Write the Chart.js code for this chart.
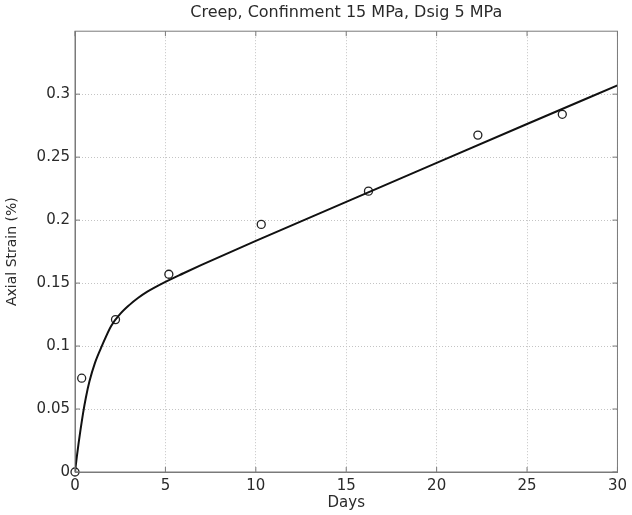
<html><head><title>Creep, Confinment 15 MPa, Dsig 5 MPa</title>
<script src="https://cdn.jsdelivr.net/npm/chart.js"></script>
<style>
    body {
        margin: 0;
        background: #fff;
    }
    #chart-container {
        width: 632px;
        height: 515px;
    }
</style>
</head>
<body>
    <div id="chart-container">
        <canvas id="creepChart" width="632" height="515"></canvas>
    </div>

    <script>
    // measured points (circles)
    const obsDays = [0, 0.37, 2.24, 5.19, 10.3, 16.23, 22.28, 26.95];
    const obsStrain = [0, 0.0745, 0.121, 0.157, 0.1966, 0.223, 0.2675, 0.284];

    // fitted curve
    const fitDays = [0, 0.1, 0.2, 0.3, 0.45, 0.6, 0.8, 1.1, 1.5, 2, 2.5, 3, 3.5, 4, 5, 6, 7, 8.5, 10, 15, 20, 25, 30];
    const fitStrain = [0, 0.012, 0.023, 0.033, 0.047, 0.059, 0.072, 0.0865, 0.1005, 0.116, 0.1255, 0.1325, 0.1383, 0.1432, 0.151, 0.1578, 0.1644, 0.174, 0.1835, 0.2145, 0.2455, 0.2763, 0.307];

    const xTicks = [0, 5, 10, 15, 20, 25, 30];
    const yTicks = [0, 0.05, 0.1, 0.15, 0.2, 0.25, 0.3];

    const textColor = '#2a2a2a';
    const frameColor = '#7a7a7a';

    // box around the axes plus small inward tick marks, like matlab
    const framePlugin = {
        id: 'frame',
        afterDraw(chart) {
            const { ctx, chartArea: a, scales } = chart;
            ctx.save();
            ctx.strokeStyle = frameColor;
            ctx.lineWidth = 1;
            ctx.strokeRect(a.left, a.top, a.right - a.left, a.bottom - a.top);
            ctx.beginPath();
            yTicks.forEach(v => {
                const y = scales.y.getPixelForValue(v);
                ctx.moveTo(a.left, y); ctx.lineTo(a.left + 5, y);
                ctx.moveTo(a.right, y); ctx.lineTo(a.right - 5, y);
            });
            xTicks.forEach(v => {
                const x = scales.x.getPixelForValue(v);
                ctx.moveTo(x, a.bottom); ctx.lineTo(x, a.bottom - 5);
                ctx.moveTo(x, a.top); ctx.lineTo(x, a.top + 5);
            });
            ctx.stroke();
            ctx.restore();
        }
    };

    const ctx = document.getElementById('creepChart').getContext('2d');
    const chart = new Chart(ctx, {
        type: 'scatter',
        data: {
            datasets: [{
                label: 'Fit',
                type: 'line',
                data: fitDays.map((d, i) => ({ x: d, y: fitStrain[i] })),
                borderColor: '#111',
                borderWidth: 2,
                pointRadius: 0,
                cubicInterpolationMode: 'monotone',
                fill: false
            }, {
                label: 'Measured',
                data: obsDays.map((d, i) => ({ x: d, y: obsStrain[i] })),
                pointStyle: 'circle',
                pointRadius: 4,
                borderColor: '#222',
                borderWidth: 1.3,
                backgroundColor: 'rgba(0,0,0,0)',
                clip: false
            }]
        },
        options: {
            responsive: false,
            animation: false,
            events: [],
            layout: {
                padding: { left: 0, right: 11.5, top: 0, bottom: 0 }
            },
            plugins: {
                legend: { display: false },
                tooltip: { enabled: false },
                title: {
                    display: true,
                    text: 'Creep, Confinment 15 MPa, Dsig 5 MPa',
                    fullSize: false,
                    color: textColor,
                    font: { family: 'DejaVu Sans', size: 16, weight: 'normal' },
                    padding: { top: 3, bottom: 9 }
                }
            },
            scales: {
                x: {
                    type: 'linear',
                    min: 0,
                    max: 30,
                    afterFit: s => { s.height = 43; },
                    afterBuildTicks: s => { s.ticks = xTicks.map(v => ({ value: v })); },
                    ticks: {
                        color: textColor,
                        padding: 5,
                        maxRotation: 0,
                        font: { family: 'DejaVu Sans', size: 15 }
                    },
                    grid: { color: '#c4c4c4', drawTicks: false },
                    border: { color: frameColor, dash: [1, 2] },
                    title: {
                        display: true,
                        text: 'Days',
                        color: textColor,
                        font: { family: 'DejaVu Sans', size: 15 },
                        padding: { top: 0, bottom: 3 }
                    }
                },
                y: {
                    min: 0,
                    max: 0.35,
                    afterFit: s => { s.width = 75; },
                    afterBuildTicks: s => { s.ticks = yTicks.map(v => ({ value: v })); },
                    ticks: {
                        color: textColor,
                        padding: 5,
                        font: { family: 'DejaVu Sans', size: 15 },
                        callback: v => String(Number(v.toFixed(2)))
                    },
                    grid: { color: '#c4c4c4', drawTicks: false },
                    border: { color: frameColor, dash: [1, 2] },
                    title: {
                        display: true,
                        text: 'Axial Strain (%)',
                        color: textColor,
                        font: { family: 'DejaVu Sans', size: 14 },
                        padding: { top: 4, bottom: 0 }
                    }
                }
            }
        },
        plugins: [framePlugin]
    });
    </script>
</body>
</html>
